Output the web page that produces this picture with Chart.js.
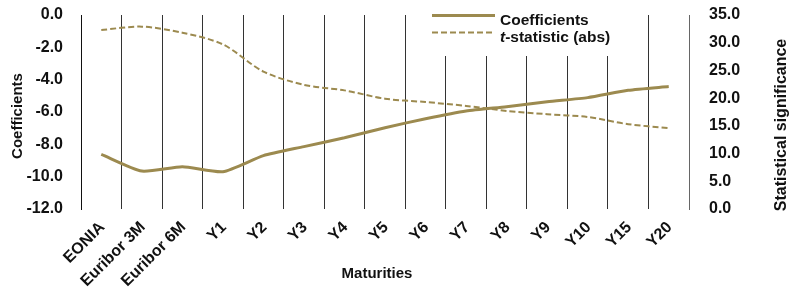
<!DOCTYPE html>
<html>
<head>
<meta charset="utf-8">
<script src="https://cdn.jsdelivr.net/npm/chart.js@4"></script>
<style>
  html, body { margin: 0; padding: 0; background: #fff; }
  #wrap { position: relative; width: 790px; height: 287px; }
</style>
</head>
<body>
<div id="wrap"><canvas id="maturityChart" width="790" height="287"></canvas></div>
<script>
// ── data ──────────────────────────────
const maturities = ['EONIA','Euribor 3M','Euribor 6M','Y1','Y2','Y3','Y4','Y5','Y6','Y7','Y8','Y9','Y10','Y15','Y20'];
const coefficients = [-8.62, -9.65, -9.38, -9.69, -8.70, -8.14, -7.59, -6.97, -6.42, -5.94, -5.67, -5.36, -5.11, -4.66, -4.43];
const tStatAbs = [32.3, 32.9, 31.8, 29.7, 24.8, 22.4, 21.4, 19.9, 19.3, 18.6, 17.7, 17.1, 16.6, 15.3, 14.6];
const leftTicks = [0, -2, -4, -6, -8, -10, -12];
const rightTicks = [0, 5, 10, 15, 20, 25, 30, 35];

const gold = '#9c8a4f';
const fontFam = "'Liberation Sans', Arial, sans-serif";

// legend box + axis titles, drawn by hand
const extras = {
  id: 'extras',
  afterDatasetsDraw(chart) {
    const ctx = chart.ctx;
    ctx.save();
    // white box over the grid lines
    ctx.fillStyle = '#fff';
    ctx.fillRect(428, 0, 208, 56);
    // solid sample
    ctx.strokeStyle = gold;
    ctx.lineWidth = 3;
    ctx.beginPath(); ctx.moveTo(432, 15.5); ctx.lineTo(495, 15.5); ctx.stroke();
    // dashed sample
    ctx.lineWidth = 2;
    ctx.setLineDash([6, 3]);
    ctx.beginPath(); ctx.moveTo(432, 32.5); ctx.lineTo(495, 32.5); ctx.stroke();
    ctx.setLineDash([]);
    ctx.fillStyle = '#111';
    ctx.textBaseline = 'alphabetic';
    ctx.font = `bold 15.5px ${fontFam}`;
    ctx.fillText('Coefficients', 500, 25);
    ctx.font = `italic bold 15.5px ${fontFam}`;
    ctx.fillText('t', 500, 42);
    const tw = ctx.measureText('t').width;
    ctx.font = `bold 15.5px ${fontFam}`;
    ctx.fillText('-statistic (abs)', 500 + tw, 42);

    ctx.textAlign = 'center';
    ctx.textBaseline = 'middle';
    // x title
    ctx.font = `bold 15px ${fontFam}`;
    ctx.fillText('Maturities', 377, 274);
    // left title
    ctx.save();
    ctx.translate(17.5, 116);
    ctx.rotate(-Math.PI / 2);
    ctx.fillText('Coefficients', 0, 0);
    ctx.restore();
    // right title
    ctx.translate(782, 125);
    ctx.rotate(-Math.PI / 2);
    ctx.font = `bold 16px ${fontFam}`;
    ctx.fillText('Statistical significance', 0, 0);
    ctx.restore();
  }
};

// pin the axis boxes so the plot sits where the original does
const pinY = w => s => { s.width = w; s.paddingTop = 0; s.paddingBottom = 0; };

const ctx = document.getElementById('maturityChart').getContext('2d');

new Chart(ctx, {
  type: 'line',
  data: {
    labels: maturities,
    datasets: [
      {
        label: 'Coefficients',
        data: coefficients,
        yAxisID: 'y',
        borderColor: gold,
        borderWidth: 3,
        pointRadius: 0,
        tension: 0.2,
        fill: false
      },
      {
        label: 't-statistic (abs)',
        data: tStatAbs,
        yAxisID: 'y2',
        borderColor: gold,
        borderWidth: 2,
        borderDash: [6, 3],
        pointRadius: 0,
        tension: 0.3,
        fill: false
      }
    ]
  },
  options: {
    responsive: false,
    animation: false,
    layout: { padding: { top: 15, left: 0, right: 0, bottom: 0 } },
    plugins: {
      legend: { display: false },
      tooltip: { enabled: false }
    },
    scales: {
      x: {
        offset: true,
        grid: {
          offset: true,
          color: '#333',
          lineWidth: 1,
          drawTicks: false
        },
        border: { display: false },
        ticks: {
          minRotation: 45,
          maxRotation: 45,
          autoSkip: false,
          padding: 9,
          labelOffset: 1,
          color: '#111',
          font: { family: fontFam, size: 16, weight: 'bold' }
        },
        afterFit: s => { s.height = 78; s.paddingLeft = 0; s.paddingRight = 0; }
      },
      y: {
        position: 'left',
        min: -12,
        max: 0,
        afterBuildTicks: s => { s.ticks = leftTicks.map(v => ({ value: v })); },
        grid: { display: false },
        border: { display: true, color: '#111', width: 1 },
        ticks: {
          padding: 10,
          color: '#111',
          font: { family: fontFam, size: 16, weight: 'bold' },
          callback: v => v.toFixed(1)
        },
        afterFit: pinY(81)
      },
      y2: {
        position: 'right',
        min: 0,
        max: 35,
        afterBuildTicks: s => { s.ticks = rightTicks.map(v => ({ value: v })); },
        grid: { display: false },
        border: { display: true, color: '#666', width: 1 },
        ticks: {
          padding: 12,
          color: '#111',
          font: { family: fontFam, size: 16, weight: 'bold' },
          callback: v => v.toFixed(1)
        },
        afterFit: pinY(101)
      }
    }
  },
  plugins: [extras]
});
</script>
</body>
</html>
